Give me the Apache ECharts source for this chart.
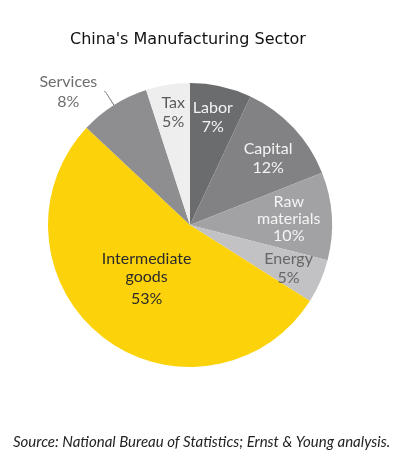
<!DOCTYPE html>
<html>
<head>
<meta charset="utf-8">
<script src="https://cdn.jsdelivr.net/npm/echarts@6/dist/echarts.min.js"></script>
<style>
  html, body { margin: 0; padding: 0; background: #ffffff; }
  #main { width: 399px; height: 455px; }
</style>
</head>
<body>
<div id="main"></div>
<script>
// data (clockwise from 12 o'clock)
var sectors = ['Labor', 'Capital', 'Raw\nmaterials', 'Energy', 'Intermediate\ngoods', 'Services', 'Tax'];
var shares = [7, 12, 10, 5, 53, 8, 5];

var sliceColors = ['#6b6c6e', '#828285', '#a2a2a5', '#c2c2c5', '#fcd20b', '#8e8e91', '#eeeeee'];
var textColors = ['#f4f4f4', '#f4f4f4', '#f4f4f4', '#666666', '#2b2b2b', '#6e6e6e', '#5a5a5a'];
// small nudges for the ring labels
var labelNudge = [[-2, 4], [-5, 11], [-15, 1], [-6, -2], [2, -3], [0, 0], [1, 0]];

var FONT = 'Lato';

var chartDom = document.getElementById('main');
var myChart = echarts.init(chartDom);

// main pie: slices + the two labels that are not in the outer ring
var mainData = sectors.map(function (name, i) {
  var item = {
    name: name,
    value: shares[i],
    itemStyle: { color: sliceColors[i] },
    label: { show: false }
  };
  if (name === 'Intermediate\ngoods') {
    item.label = {
      show: true,
      position: 'inside',
      offset: labelNudge[i],
      formatter: '{a|Intermediate}\n{a|goods}\n{b|{d}%}',
      rich: {
        a: { fontFamily: FONT, fontSize: 16, lineHeight: 18, color: textColors[i] },
        b: { fontFamily: FONT, fontSize: 16, lineHeight: 26, color: textColors[i] }
      }
    };
  }
  if (name === 'Services') {
    item.label = {
      show: true,
      position: 'outside',
      formatter: '{a|Services}\n{a|{d}%}',
      rich: {
        a: { fontFamily: FONT, fontSize: 16, lineHeight: 20, color: textColors[i], width: 62, align: 'center' }
      }
    };
    item.labelLine = {
      show: true,
      length: 16,
      length2: 1,
      smooth: 0.3,
      lineStyle: { color: '#6e6e6e', width: 1 }
    };
  }
  return item;
});

// transparent ring on top, used only to place the outer ring labels
var ringData = sectors.map(function (name, i) {
  var inRing = name !== 'Intermediate\ngoods' && name !== 'Services';
  var lbl = {
    show: inRing,
    color: textColors[i],
    offset: labelNudge[i]
  };
  if (name === 'Raw\nmaterials') lbl.lineHeight = 17;
  return { name: name, value: shares[i], label: lbl };
});

var option = {
  backgroundColor: '#ffffff',
  animation: false,
  title: [
    {
      text: "China's Manufacturing Sector",
      left: 65,
      top: 27,
      textStyle: { fontFamily: 'DejaVu Sans', fontSize: 16, fontWeight: 'normal', color: '#111111' }
    },
    {
      text: 'Source: National Bureau of Statistics; Ernst & Young analysis.',
      left: 8,
      top: 430,
      textStyle: { fontFamily: FONT, fontSize: 15, fontStyle: 'italic', fontWeight: 'normal', color: '#222222' }
    }
  ],
  series: [
    {
      type: 'pie',
      center: [190, 225],
      radius: [0, 142],
      startAngle: 90,
      clockwise: true,
      avoidLabelOverlap: false,
      itemStyle: { borderWidth: 0 },
      emphasis: { disabled: true },
      data: mainData
    },
    {
      type: 'pie',
      center: [190, 225],
      radius: [80, 142],
      startAngle: 90,
      clockwise: true,
      silent: true,
      avoidLabelOverlap: false,
      itemStyle: { color: 'rgba(0,0,0,0)', borderWidth: 0 },
      label: {
        position: 'inside',
        formatter: '{b}\n{d}%',
        fontFamily: FONT,
        fontSize: 16,
        lineHeight: 19,
        align: 'center'
      },
      labelLine: { show: false },
      emphasis: { disabled: true },
      data: ringData
    }
  ]
};

option && myChart.setOption(option);
</script>
</body>
</html>
